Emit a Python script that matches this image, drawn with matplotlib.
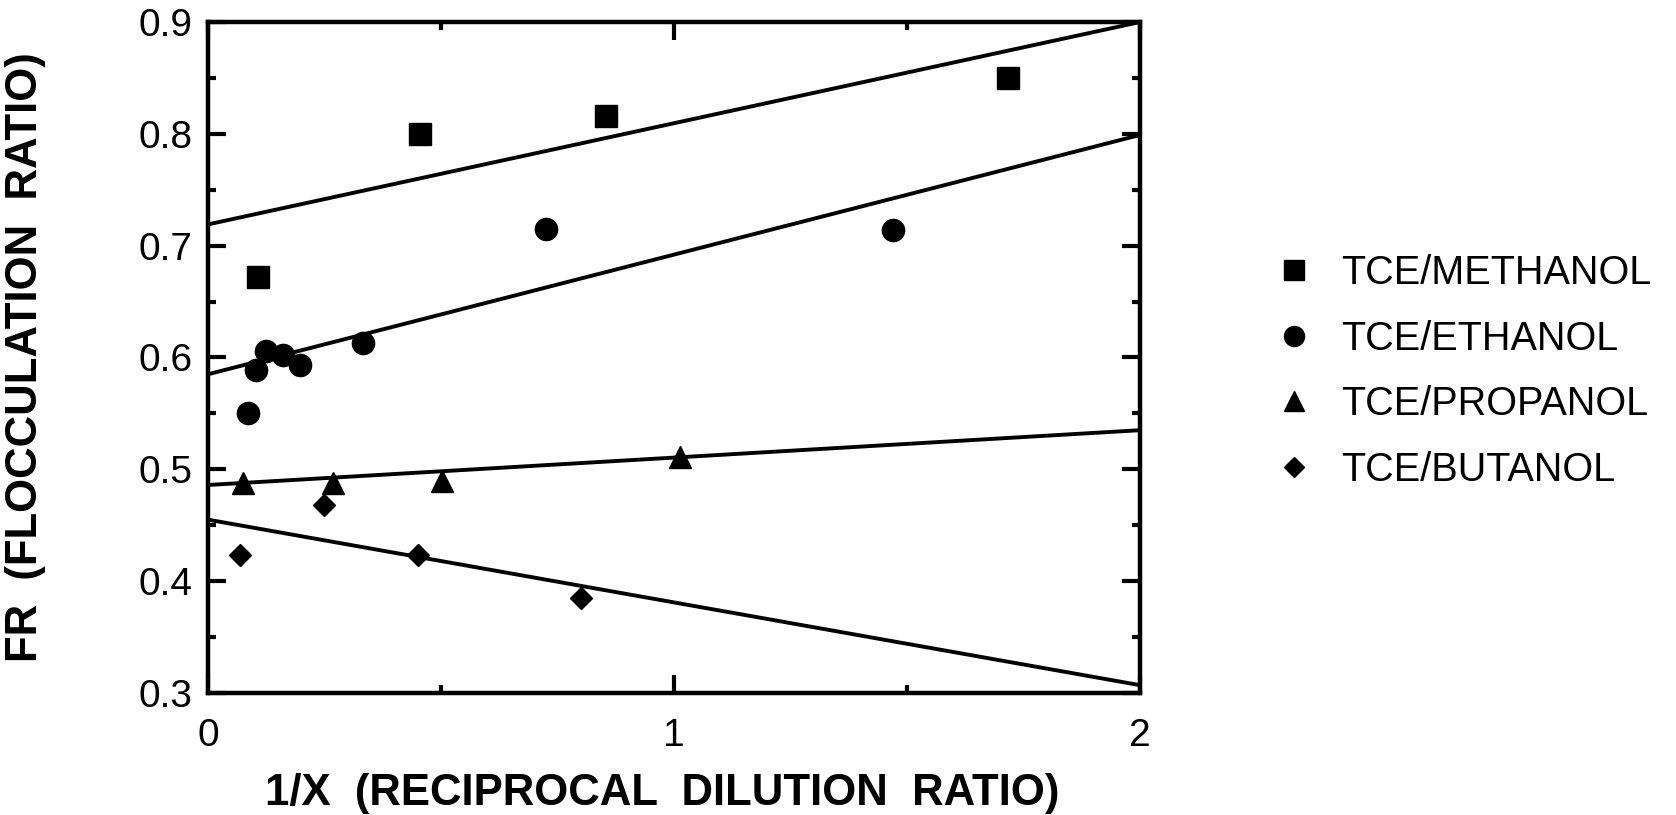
import numpy as np
import matplotlib
matplotlib.use('Agg')
import matplotlib.pyplot as plt
from matplotlib.ticker import MultipleLocator, FormatStrFormatter

plt.rcParams['font.family'] = ['Liberation Sans', 'DejaVu Sans']

# data
labels = ['TCE/METHANOL', 'TCE/ETHANOL', 'TCE/PROPANOL', 'TCE/BUTANOL']
markers = ['s', 'o', '^', 'D']
msizes = [16, 16, 16, 11.5]

methanol_x = [0.107, 0.455, 0.855, 1.716]
methanol_y = [0.672, 0.800, 0.816, 0.850]
ethanol_x = [0.086, 0.104, 0.124, 0.162, 0.198, 0.333, 0.725, 1.470]
ethanol_y = [0.550, 0.589, 0.606, 0.602, 0.593, 0.613, 0.715, 0.714]
propanol_x = [0.075, 0.268, 0.503, 1.012]
propanol_y = [0.488, 0.488, 0.490, 0.511]
butanol_x = [0.068, 0.248, 0.450, 0.800]
butanol_y = [0.423, 0.468, 0.423, 0.385]

# fitted lines: intercept, slope
intercepts = [0.719, 0.585, 0.486, 0.455]
slopes = [0.0905, 0.107, 0.0245, -0.074]

xs = [methanol_x, ethanol_x, propanol_x, butanol_x]
ys = [methanol_y, ethanol_y, propanol_y, butanol_y]

fig = plt.figure(figsize=(16.76, 8.15), dpi=100)
ax = fig.add_axes([0.1241, 0.1497, 0.5561, 0.8233])

xl = np.array([0.0, 2.0])
handles = []
for i in range(4):
    ax.plot(xl, intercepts[i] + slopes[i] * xl, color='black', lw=2.8,
            solid_capstyle='butt')
    h, = ax.plot(xs[i], ys[i], linestyle='none', marker=markers[i],
                 ms=msizes[i], color='black', mec='black', label=labels[i])
    handles.append(h)

ax.set_xlim(0, 2)
ax.set_ylim(0.3, 0.9)
ax.xaxis.set_major_locator(MultipleLocator(1))
ax.xaxis.set_minor_locator(MultipleLocator(0.5))
ax.yaxis.set_major_locator(MultipleLocator(0.1))
ax.yaxis.set_minor_locator(MultipleLocator(0.05))
ax.yaxis.set_major_formatter(FormatStrFormatter('%.1f'))
ax.xaxis.set_major_formatter(FormatStrFormatter('%d'))

for s in ax.spines.values():
    s.set_linewidth(3.2)
ax.tick_params(which='both', direction='in', top=True, right=True,
               width=3, labelsize=28)
ax.tick_params(which='major', length=13)
ax.tick_params(which='minor', length=6)
ax.tick_params(axis='x', which='major', pad=18)
ax.tick_params(axis='y', which='major', pad=11)

fig.text(0.395, 0.026, '1/X  (RECIPROCAL  DILUTION  RATIO)', ha='center',
         va='center', fontsize=31.5, fontweight='bold')
fig.text(0.015, 0.562, 'FR  (FLOCCULATION  RATIO)', ha='center', va='center',
         rotation=90, fontsize=31.5, fontweight='bold')

fig.legend(handles=handles, loc='upper left', bbox_to_anchor=(0.752, 0.708),
           frameon=False, fontsize=28.5, handletextpad=0.75, labelspacing=0.70,
           handlelength=0.9, borderaxespad=0, markerscale=0.9)

plt.savefig('out.png', dpi=100)
plt.close()
